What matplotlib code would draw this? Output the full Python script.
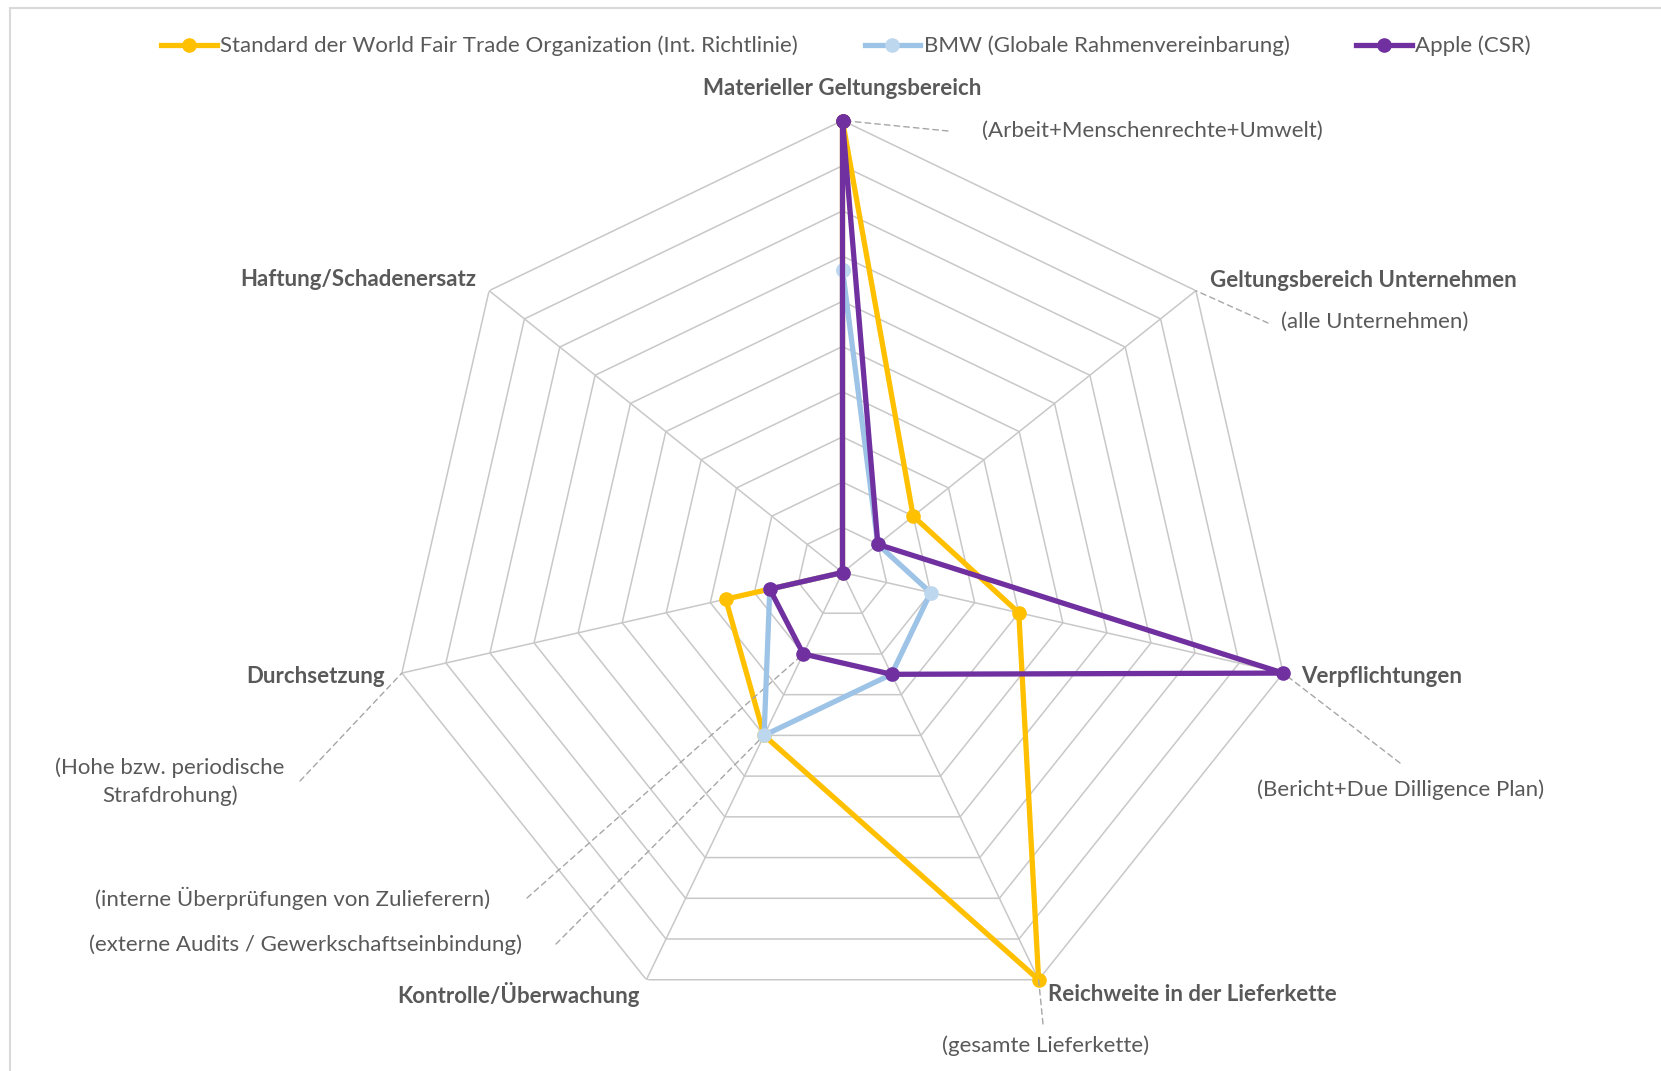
import numpy as np
import matplotlib.pyplot as plt
from matplotlib.lines import Line2D
from matplotlib.patches import Rectangle

plt.rcParams['font.family'] = ['Lato', 'DejaVu Sans']

W, H = 1661, 1071

categories = ["Materieller Geltungsbereich", "Geltungsbereich Unternehmen", "Verpflichtungen",
              "Reichweite in der Lieferkette", "Kontrolle/Überwachung", "Durchsetzung",
              "Haftung/Schadenersatz"]
series_names = ["Standard der World Fair Trade Organization (Int. Richtlinie)",
                "BMW (Globale Rahmenvereinbarung)",
                "Apple (CSR)"]
wfto = [10, 2, 4, 10, 4, 2.65, 0]
bmw = [6.7, 1, 2, 2.5, 4, 1.65, 0]
apple = [10, 1, 10, 2.5, 2, 1.65, 0]

line_colors = ["#FFC000", "#9DC3E6", "#7030A0"]
marker_colors = ["#FFC000", "#BDD7EE", "#7030A0"]
text_col = "#595959"
grid_col = "#C8C8C8"
lead_col = "#A6A6A6"
rmax = 10

def px(x, y):
    # image pixel -> figure fraction
    return x / W, 1 - y / H

fig = plt.figure(figsize=(W / 100, H / 100), dpi=100)
# chart area border (only top and left edges fall inside the image)
x0, y0 = px(10, 8)
fig.patches.append(Rectangle((x0, -0.5), 2, y0 + 0.5, transform=fig.transFigure,
                             fill=False, edgecolor="#D9D9D9", lw=1.5))

cx, cy, R = 842.5, 572.5, 452
l, t = px(cx - R, cy - R)
ax = fig.add_axes([l, t - 2 * R / H, 2 * R / W, 2 * R / H], projection='polar')
ax.set_theta_offset(np.pi / 2)
ax.set_theta_direction(-1)
ax.set_ylim(0, rmax)
ax.grid(False)
ax.spines['polar'].set_visible(False)
ax.set_xticks([])
ax.set_yticks([])
ax.patch.set_alpha(0)

n = len(categories)
theta = np.arange(n) * 2 * np.pi / n
theta_c = np.append(theta, theta[0])

# polygon grid
for k in range(1, rmax + 1):
    ax.plot(theta_c, [k] * (n + 1), color=grid_col, lw=1.1, zorder=1)
for th in theta:
    ax.plot([th, th], [0, rmax], color=grid_col, lw=1.1, zorder=1)

for i, vals in enumerate([wfto, bmw, apple]):
    v = np.append(vals, vals[0])
    ax.plot(theta_c, v, color=line_colors[i], lw=3.8, marker='o', markersize=9.5,
            markerfacecolor=marker_colors[i], markeredgecolor=marker_colors[i],
            zorder=3 + i, clip_on=False)

# category labels
label_offsets = [(0, 32, 'center'), (14, 10, 'left'), (18, -3, 'left'), (9, -15, 'left'),
                 (-7, -15, 'right'), (-17, -3, 'right'), (-13, 11, 'right')]
for th, lab, (dx, dy, ha) in zip(theta, categories, label_offsets):
    ax.annotate(lab, xy=(th, rmax), xytext=(dx, dy), textcoords='offset pixels',
                ha=ha, va='center', fontsize=16, fontweight='bold', color=text_col,
                annotation_clip=False)

# data notes with dashed leader lines
notes = [
    ("(Arbeit+Menschenrechte+Umwelt)", 0, 10, (948, 131), (982, 131), 'left'),
    ("(alle Unternehmen)", 1, 10, (1268, 323), (1281, 322), 'left'),
    ("(Bericht+Due Dilligence Plan)", 2, 10, (1400, 763), (1257, 790), 'left'),
    ("(gesamte Lieferkette)", 3, 10, (1043, 1024), (1046, 1046), 'center'),
    ("(interne Überprüfungen von Zulieferern)", 4, 2, (527, 898), (490, 898), 'right'),
    ("(externe Audits / Gewerkschaftseinbindung)", 4, 4, (556, 944), (522, 945), 'right'),
    ("(Hohe bzw. periodische\nStrafdrohung)", 5, 10, (300, 781), (170, 782), 'center'),
]
for txt, idx, r, lead_end, pos, ha in notes:
    ax.annotate('', xy=(theta[idx], r), xytext=px(*lead_end), textcoords='figure fraction',
                arrowprops=dict(arrowstyle='-', linestyle=(0, (4, 3)), color=lead_col, lw=1,
                                shrinkA=0, shrinkB=0), annotation_clip=False)
    fig.text(*px(*pos), txt, ha=ha, va='center', fontsize=16, color=text_col,
             linespacing=1.45, multialignment='center')

handles = [Line2D([], [], color=line_colors[i], lw=3.8, marker='o', markersize=9.5,
                  markerfacecolor=marker_colors[i], markeredgecolor=marker_colors[i])
           for i in range(3)]
fig.legend(handles, series_names, loc='center', bbox_to_anchor=px(846, 46), ncol=3,
           frameon=False, fontsize=16, handlelength=2.5, handletextpad=0.15,
           columnspacing=3.0, labelcolor=text_col)

plt.savefig("out.png", dpi=100)
